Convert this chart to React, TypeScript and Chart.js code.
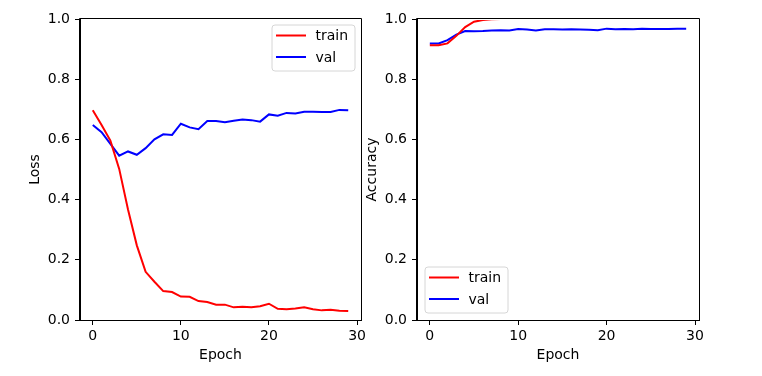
import React, { useEffect, useRef } from "react";
import { Chart, registerables } from "chart.js";

Chart.register(...registerables);

const epochs = [0, 1, 2, 3, 4, 5, 6, 7, 8, 9, 10, 11, 12, 13, 14, 15, 16, 17, 18, 19, 20, 21, 22, 23, 24, 25, 26, 27, 28, 29];

const trainLoss = [0.697, 0.648, 0.596, 0.502, 0.367, 0.248, 0.160, 0.127, 0.096, 0.093, 0.078, 0.077, 0.063, 0.060, 0.051, 0.051, 0.042, 0.044, 0.042, 0.046, 0.054, 0.037, 0.036, 0.038, 0.042, 0.036, 0.032, 0.034, 0.031, 0.030];
const valLoss = [0.648, 0.624, 0.585, 0.546, 0.560, 0.549, 0.571, 0.600, 0.617, 0.615, 0.652, 0.640, 0.634, 0.661, 0.661, 0.657, 0.662, 0.666, 0.664, 0.659, 0.683, 0.679, 0.688, 0.686, 0.692, 0.692, 0.691, 0.691, 0.698, 0.697];

const trainAcc = [0.913, 0.913, 0.919, 0.944, 0.973, 0.991, 0.997, 0.999, 1.0, 1.0, 1.0, 1.0, 1.0, 1.0, 1.0, 1.0, 1.0, 1.0, 1.0, 1.0, 1.0, 1.0, 1.0, 1.0, 1.0, 1.0, 1.0, 1.0, 1.0, 1.0];
const valAcc = [0.919, 0.919, 0.930, 0.948, 0.960, 0.959, 0.960, 0.962, 0.963, 0.962, 0.967, 0.965, 0.962, 0.966, 0.966, 0.965, 0.966, 0.965, 0.964, 0.963, 0.968, 0.966, 0.967, 0.966, 0.968, 0.967, 0.967, 0.967, 0.968, 0.968];

const xTicks = [0, 10, 20, 30];
const yTicks = [0, 0.2, 0.4, 0.6, 0.8, 1.0];
const seriesNames = ["train", "val"];
const seriesColors = ["#ff0000", "#0000ff"];

const FONT = "'DejaVu Sans', sans-serif";

const framePlugin = {
  id: "frame",
  afterDatasetsDraw(chart: any) {
    const { ctx, chartArea } = chart;
    const l = Math.round(chartArea.left) - 0.5;
    const r = Math.round(chartArea.right) + 0.5;
    const t = Math.round(chartArea.top) - 0.5;
    const b = Math.round(chartArea.bottom) + 0.5;
    ctx.save();
    ctx.strokeStyle = "#000";
    ctx.lineWidth = 1;
    ctx.beginPath();
    ctx.moveTo(l, t);
    ctx.lineTo(r, t);
    ctx.lineTo(r, b);
    ctx.lineTo(l, b);
    ctx.closePath();
    ctx.stroke();
    ctx.restore();
  },
};

function legendPlugin(pos: "upper right" | "lower left") {
  return {
    id: "mplLegend",
    afterDraw(chart: any) {
      const { ctx, chartArea } = chart;
      const w = 83;
      const h = 46;
      const x = pos === "upper right" ? chartArea.right - 6 - w : chartArea.left + 8;
      const y = pos === "upper right" ? chartArea.top + 6 : chartArea.bottom - 7 - h;
      ctx.save();
      ctx.beginPath();
      const rr = 3;
      ctx.moveTo(x + rr, y);
      ctx.lineTo(x + w - rr, y);
      ctx.quadraticCurveTo(x + w, y, x + w, y + rr);
      ctx.lineTo(x + w, y + h - rr);
      ctx.quadraticCurveTo(x + w, y + h, x + w - rr, y + h);
      ctx.lineTo(x + rr, y + h);
      ctx.quadraticCurveTo(x, y + h, x, y + h - rr);
      ctx.lineTo(x, y + rr);
      ctx.quadraticCurveTo(x, y, x + rr, y);
      ctx.closePath();
      ctx.fillStyle = "rgba(255,255,255,0.8)";
      ctx.fill();
      ctx.strokeStyle = "#d6d6d6";
      ctx.lineWidth = 1;
      ctx.stroke();
      ctx.font = "14px " + FONT;
      ctx.textBaseline = "middle";
      ctx.textAlign = "left";
      seriesNames.forEach((name, i) => {
        const cy = y + 10.5 + i * 21.5;
        ctx.strokeStyle = seriesColors[i];
        ctx.lineWidth = 2;
        ctx.beginPath();
        ctx.moveTo(x + 4, cy);
        ctx.lineTo(x + 34, cy);
        ctx.stroke();
        ctx.fillStyle = "#000";
        ctx.fillText(name, x + 43.5, cy + 1);
      });
      ctx.restore();
    },
  };
}

type PanelProps = {
  left: number;
  width: number;
  yAxisWidth: number;
  padRight: number;
  yTitle: string;
  yTitlePad: number;
  train: number[];
  val: number[];
  legendPos: "upper right" | "lower left";
};

function Panel(p: PanelProps) {
  const ref = useRef<HTMLCanvasElement | null>(null);
  useEffect(() => {
    if (!ref.current) return;
    const mk = (vals: number[]) => epochs.map((e, i) => ({ x: e, y: vals[i] }));
    const chart = new Chart(ref.current, {
      type: "line",
      data: {
        datasets: [p.train, p.val].map((vals, i) => ({
          label: seriesNames[i],
          data: mk(vals),
          borderColor: seriesColors[i],
          backgroundColor: seriesColors[i],
          borderWidth: 2,
          pointRadius: 0,
          tension: 0,
          fill: false,
          clip: { left: 0, top: -1, right: 0, bottom: 0 },
        })),
      },
      options: {
        responsive: false,
        animation: false,
        devicePixelRatio: 1,
        events: [],
        layout: { padding: { left: 0, top: 19, right: p.padRight, bottom: 0 } },
        plugins: { legend: { display: false }, tooltip: { enabled: false } },
        scales: {
          x: {
            type: "linear",
            min: -1.45,
            max: 30.45,
            afterBuildTicks: (s: any) => {
              s.ticks = xTicks.map((v) => ({ value: v }));
            },
            afterFit: (s: any) => {
              s.height = 56;
            },
            grid: { drawOnChartArea: false, color: "#000", tickLength: 5, tickWidth: 1 },
            border: { color: "#000", width: 1 },
            ticks: {
              color: "#000",
              font: { size: 14, family: FONT },
              padding: 3,
              maxRotation: 0,
              callback: (v: any) => String(v),
            },
            title: {
              display: true,
              text: "Epoch",
              color: "#000",
              font: { size: 14, family: FONT },
              padding: { top: 0, bottom: 12 },
            },
          },
          y: {
            type: "linear",
            min: 0,
            max: 1,
            afterBuildTicks: (s: any) => {
              s.ticks = yTicks.map((v) => ({ value: v }));
            },
            afterFit: (s: any) => {
              s.width = p.yAxisWidth;
            },
            grid: { drawOnChartArea: false, color: "#000", tickLength: 5, tickWidth: 1 },
            border: { color: "#000", width: 1 },
            ticks: {
              color: "#000",
              font: { size: 14, family: FONT },
              padding: 5,
              callback: (v: any) => Number(v).toFixed(1),
            },
            title: {
              display: true,
              text: p.yTitle,
              color: "#000",
              font: { size: 14, family: FONT },
              padding: { top: p.yTitlePad, bottom: 0 },
            },
          },
        },
      } as any,
      plugins: [framePlugin, legendPlugin(p.legendPos)],
    });
    return () => chart.destroy();
  }, []);
  return (
    <canvas
      ref={ref}
      width={p.width}
      height={376}
      style={{ position: "absolute", left: p.left, top: 0, width: p.width, height: 376 }}
    />
  );
}

export default function App() {
  return (
    <div style={{ position: "fixed", left: 0, top: 0, width: 762, height: 376, background: "#fff" }}>
      <Panel
        left={0}
        width={381}
        yAxisWidth={80}
        padRight={20}
        yTitle="Loss"
        yTitlePad={27}
        train={trainLoss}
        val={valLoss}
        legendPos="upper right"
      />
      <Panel
        left={362}
        width={400}
        yAxisWidth={55}
        padRight={63}
        yTitle="Accuracy"
        yTitlePad={2}
        train={trainAcc}
        val={valAcc}
        legendPos="lower left"
      />
    </div>
  );
}
